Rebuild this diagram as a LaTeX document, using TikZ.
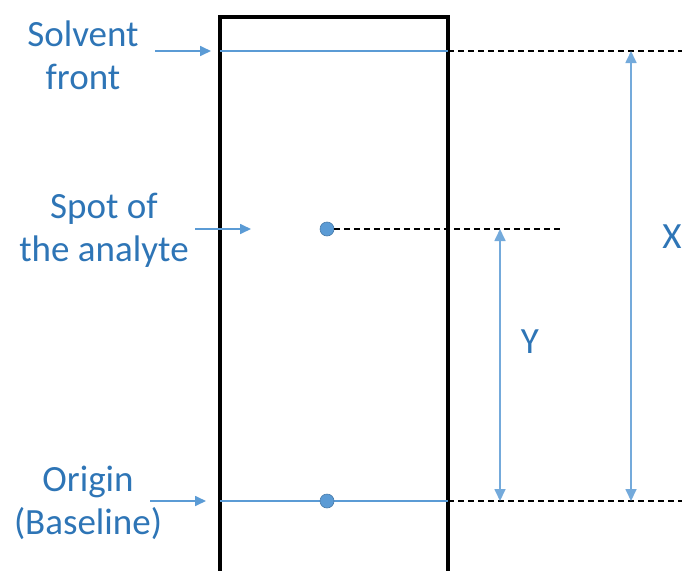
\documentclass[tikz,border=0pt]{standalone}
\usepackage{fontspec}
\setmainfont{Carlito}
\usetikzlibrary{arrows.meta}
\definecolor{labelblue}{HTML}{2E75B6}
\definecolor{lineblue}{HTML}{5B9BD5}
\begin{document}
\begin{tikzpicture}[x=1pt,y=-1pt,
  lbl/.style={text=labelblue,font=\fontsize{37}{43}\selectfont,align=center,inner sep=0pt},
  pointer/.style={draw=lineblue,line width=1.7pt,-{Triangle[length=11pt,width=10pt]}},
  level/.style={draw=lineblue,line width=1.7pt},
  guide/.style={draw=black,line width=1.5pt,dash pattern=on 6pt off 4pt},
  dim/.style={draw=lineblue!85,line width=1.7pt,{Triangle[length=12pt,width=11pt]}-{Triangle[length=12pt,width=11pt]}},
  spot/.style={circle,fill=lineblue,draw=lineblue!80!black,line width=0.6pt,minimum size=14pt,inner sep=0pt}]
\useasboundingbox (0,0) rectangle (682,570);

% plate outline (open at the bottom edge)
\coordinate (pbl) at (220,575);
\coordinate (ptl) at (220,17);
\coordinate (ptr) at (448,17);
\coordinate (pbr) at (448,575);
\draw[line width=3.5pt,line join=miter] (pbl) -- (ptl) -- (ptr) -- (pbr);

% solvent front
\coordinate (sfL) at (220,51);
\coordinate (sfR) at (448,51);
\coordinate (sfE) at (682,51);
\draw[level] (sfL) -- (sfR);
\draw[guide] (sfR) -- (sfE);

% origin / baseline
\coordinate (obL) at (220,501);
\coordinate (obR) at (448,501);
\coordinate (obE) at (682,501);
\draw[level] (obL) -- (obR);
\draw[guide] (obR) -- (obE);

% analyte spot and its level
\node[spot] (sp) at (327,229) {};
\coordinate (spE) at (563,229);
\draw[guide] (sp.east) -- (spE);
\node[spot] (org) at (327,501) {};

% labels on the left
\node[lbl] (tsf) at (83,55) {Solvent\\front};
\node[lbl] (tsp) at (104,230) {Spot of\\the analyte};
\node[lbl] (tor) at (88,503) {Origin\\(Baseline)};

\coordinate (a1s) at (155,51);  \coordinate (a1e) at (211,51);
\coordinate (a2s) at (195,229); \coordinate (a2e) at (251,229);
\coordinate (a3s) at (150,501); \coordinate (a3e) at (206,501);
\draw[pointer] (a1s) -- (a1e);
\draw[pointer] (a2s) -- (a2e);
\draw[pointer] (a3s) -- (a3e);

% distance markers
\coordinate (xt) at (631,51);  \coordinate (xb) at (631,501);
\coordinate (yt) at (500,229); \coordinate (yb) at (500,501);
\draw[dim] (xt) -- (xb);
\draw[dim] (yt) -- (yb);
\node[lbl] (lx) at (672,237) {X};
\node[lbl] (ly) at (530,342) {Y};
\end{tikzpicture}
\end{document}
